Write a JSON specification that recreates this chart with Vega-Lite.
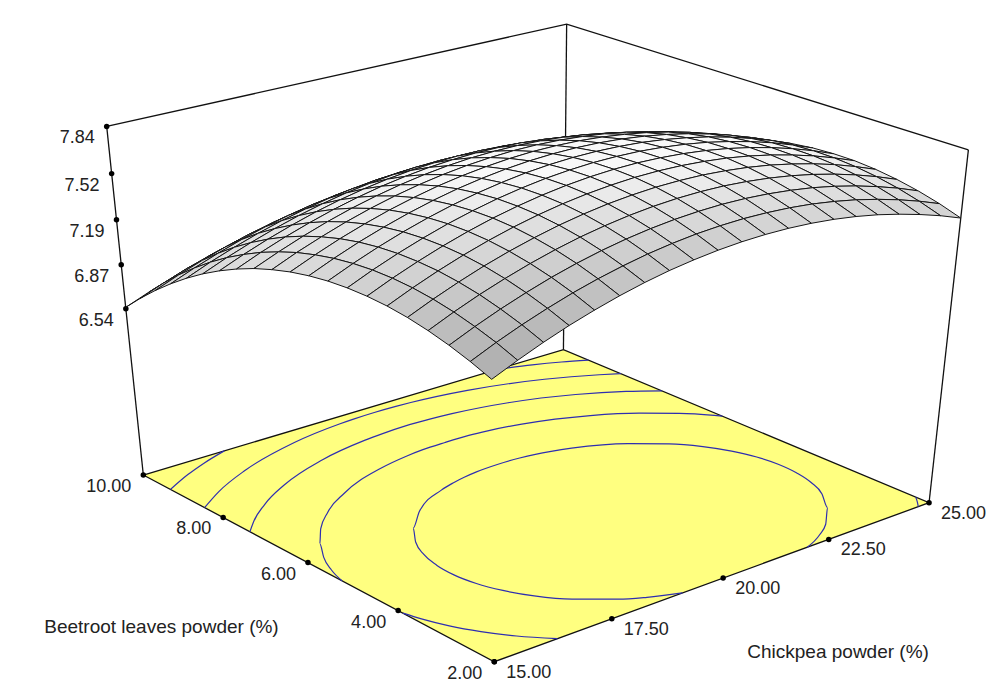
{
  "$schema": "https://vega.github.io/schema/vega-lite/v6.json",
  "width": 995,
  "height": 699,
  "autosize": {"type": "fit", "contains": "padding"},
  "padding": 0,
  "background": "white",
  "view": {"stroke": null},
  "config": {"text": {"font": "Liberation Sans", "fontSize": 18}},
  "datasets": {
    "grid": [
      {"cp":25,"bl":10,"z":6.565},{"cp":25,"bl":9.6,"z":6.694},{"cp":25,"bl":9.2,"z":6.815},{"cp":25,"bl":8.8,"z":6.926},{"cp":25,"bl":8.4,"z":7.028},{"cp":25,"bl":8,"z":7.120},{"cp":25,"bl":7.6,"z":7.203},{"cp":25,"bl":7.2,"z":7.276},{"cp":25,"bl":6.8,"z":7.340},{"cp":25,"bl":6.4,"z":7.395},{"cp":25,"bl":6,"z":7.440},{"cp":25,"bl":5.6,"z":7.476},{"cp":25,"bl":5.2,"z":7.502},{"cp":25,"bl":4.8,"z":7.519},{"cp":25,"bl":4.4,"z":7.526},{"cp":25,"bl":4,"z":7.525},{"cp":25,"bl":3.6,"z":7.513},{"cp":25,"bl":3.2,"z":7.492},{"cp":25,"bl":2.8,"z":7.462},{"cp":25,"bl":2.4,"z":7.423},{"cp":25,"bl":2,"z":7.374},
      {"cp":24.5,"bl":10,"z":6.630},{"cp":24.5,"bl":9.6,"z":6.760},{"cp":24.5,"bl":9.2,"z":6.880},{"cp":24.5,"bl":8.8,"z":6.991},{"cp":24.5,"bl":8.4,"z":7.092},{"cp":24.5,"bl":8,"z":7.184},{"cp":24.5,"bl":7.6,"z":7.266},{"cp":24.5,"bl":7.2,"z":7.340},{"cp":24.5,"bl":6.8,"z":7.403},{"cp":24.5,"bl":6.4,"z":7.457},{"cp":24.5,"bl":6,"z":7.502},{"cp":24.5,"bl":5.6,"z":7.538},{"cp":24.5,"bl":5.2,"z":7.564},{"cp":24.5,"bl":4.8,"z":7.580},{"cp":24.5,"bl":4.4,"z":7.587},{"cp":24.5,"bl":4,"z":7.585},{"cp":24.5,"bl":3.6,"z":7.573},{"cp":24.5,"bl":3.2,"z":7.552},{"cp":24.5,"bl":2.8,"z":7.522},{"cp":24.5,"bl":2.4,"z":7.482},{"cp":24.5,"bl":2,"z":7.433},
      {"cp":24,"bl":10,"z":6.689},{"cp":24,"bl":9.6,"z":6.818},{"cp":24,"bl":9.2,"z":6.938},{"cp":24,"bl":8.8,"z":7.048},{"cp":24,"bl":8.4,"z":7.149},{"cp":24,"bl":8,"z":7.241},{"cp":24,"bl":7.6,"z":7.323},{"cp":24,"bl":7.2,"z":7.396},{"cp":24,"bl":6.8,"z":7.459},{"cp":24,"bl":6.4,"z":7.513},{"cp":24,"bl":6,"z":7.558},{"cp":24,"bl":5.6,"z":7.593},{"cp":24,"bl":5.2,"z":7.618},{"cp":24,"bl":4.8,"z":7.635},{"cp":24,"bl":4.4,"z":7.641},{"cp":24,"bl":4,"z":7.639},{"cp":24,"bl":3.6,"z":7.627},{"cp":24,"bl":3.2,"z":7.605},{"cp":24,"bl":2.8,"z":7.574},{"cp":24,"bl":2.4,"z":7.534},{"cp":24,"bl":2,"z":7.484},
      {"cp":23.5,"bl":10,"z":6.740},{"cp":23.5,"bl":9.6,"z":6.869},{"cp":23.5,"bl":9.2,"z":6.989},{"cp":23.5,"bl":8.8,"z":7.099},{"cp":23.5,"bl":8.4,"z":7.199},{"cp":23.5,"bl":8,"z":7.291},{"cp":23.5,"bl":7.6,"z":7.373},{"cp":23.5,"bl":7.2,"z":7.445},{"cp":23.5,"bl":6.8,"z":7.508},{"cp":23.5,"bl":6.4,"z":7.562},{"cp":23.5,"bl":6,"z":7.606},{"cp":23.5,"bl":5.6,"z":7.641},{"cp":23.5,"bl":5.2,"z":7.666},{"cp":23.5,"bl":4.8,"z":7.682},{"cp":23.5,"bl":4.4,"z":7.688},{"cp":23.5,"bl":4,"z":7.685},{"cp":23.5,"bl":3.6,"z":7.673},{"cp":23.5,"bl":3.2,"z":7.651},{"cp":23.5,"bl":2.8,"z":7.620},{"cp":23.5,"bl":2.4,"z":7.579},{"cp":23.5,"bl":2,"z":7.529},
      {"cp":23,"bl":10,"z":6.785},{"cp":23,"bl":9.6,"z":6.914},{"cp":23,"bl":9.2,"z":7.033},{"cp":23,"bl":8.8,"z":7.143},{"cp":23,"bl":8.4,"z":7.243},{"cp":23,"bl":8,"z":7.334},{"cp":23,"bl":7.6,"z":7.415},{"cp":23,"bl":7.2,"z":7.488},{"cp":23,"bl":6.8,"z":7.550},{"cp":23,"bl":6.4,"z":7.603},{"cp":23,"bl":6,"z":7.647},{"cp":23,"bl":5.6,"z":7.682},{"cp":23,"bl":5.2,"z":7.707},{"cp":23,"bl":4.8,"z":7.722},{"cp":23,"bl":4.4,"z":7.728},{"cp":23,"bl":4,"z":7.725},{"cp":23,"bl":3.6,"z":7.712},{"cp":23,"bl":3.2,"z":7.690},{"cp":23,"bl":2.8,"z":7.659},{"cp":23,"bl":2.4,"z":7.618},{"cp":23,"bl":2,"z":7.568},
      {"cp":22.5,"bl":10,"z":6.823},{"cp":22.5,"bl":9.6,"z":6.951},{"cp":22.5,"bl":9.2,"z":7.070},{"cp":22.5,"bl":8.8,"z":7.179},{"cp":22.5,"bl":8.4,"z":7.279},{"cp":22.5,"bl":8,"z":7.370},{"cp":22.5,"bl":7.6,"z":7.451},{"cp":22.5,"bl":7.2,"z":7.523},{"cp":22.5,"bl":6.8,"z":7.585},{"cp":22.5,"bl":6.4,"z":7.638},{"cp":22.5,"bl":6,"z":7.682},{"cp":22.5,"bl":5.6,"z":7.716},{"cp":22.5,"bl":5.2,"z":7.740},{"cp":22.5,"bl":4.8,"z":7.756},{"cp":22.5,"bl":4.4,"z":7.761},{"cp":22.5,"bl":4,"z":7.758},{"cp":22.5,"bl":3.6,"z":7.745},{"cp":22.5,"bl":3.2,"z":7.722},{"cp":22.5,"bl":2.8,"z":7.691},{"cp":22.5,"bl":2.4,"z":7.649},{"cp":22.5,"bl":2,"z":7.599},
      {"cp":22,"bl":10,"z":6.853},{"cp":22,"bl":9.6,"z":6.981},{"cp":22,"bl":9.2,"z":7.100},{"cp":22,"bl":8.8,"z":7.209},{"cp":22,"bl":8.4,"z":7.309},{"cp":22,"bl":8,"z":7.399},{"cp":22,"bl":7.6,"z":7.480},{"cp":22,"bl":7.2,"z":7.551},{"cp":22,"bl":6.8,"z":7.613},{"cp":22,"bl":6.4,"z":7.666},{"cp":22,"bl":6,"z":7.709},{"cp":22,"bl":5.6,"z":7.743},{"cp":22,"bl":5.2,"z":7.767},{"cp":22,"bl":4.8,"z":7.782},{"cp":22,"bl":4.4,"z":7.787},{"cp":22,"bl":4,"z":7.784},{"cp":22,"bl":3.6,"z":7.770},{"cp":22,"bl":3.2,"z":7.747},{"cp":22,"bl":2.8,"z":7.715},{"cp":22,"bl":2.4,"z":7.674},{"cp":22,"bl":2,"z":7.623},
      {"cp":21.5,"bl":10,"z":6.877},{"cp":21.5,"bl":9.6,"z":7.004},{"cp":21.5,"bl":9.2,"z":7.123},{"cp":21.5,"bl":8.8,"z":7.232},{"cp":21.5,"bl":8.4,"z":7.331},{"cp":21.5,"bl":8,"z":7.421},{"cp":21.5,"bl":7.6,"z":7.501},{"cp":21.5,"bl":7.2,"z":7.572},{"cp":21.5,"bl":6.8,"z":7.634},{"cp":21.5,"bl":6.4,"z":7.686},{"cp":21.5,"bl":6,"z":7.729},{"cp":21.5,"bl":5.6,"z":7.763},{"cp":21.5,"bl":5.2,"z":7.787},{"cp":21.5,"bl":4.8,"z":7.801},{"cp":21.5,"bl":4.4,"z":7.806},{"cp":21.5,"bl":4,"z":7.802},{"cp":21.5,"bl":3.6,"z":7.788},{"cp":21.5,"bl":3.2,"z":7.765},{"cp":21.5,"bl":2.8,"z":7.733},{"cp":21.5,"bl":2.4,"z":7.691},{"cp":21.5,"bl":2,"z":7.640},
      {"cp":21,"bl":10,"z":6.894},{"cp":21,"bl":9.6,"z":7.021},{"cp":21,"bl":9.2,"z":7.139},{"cp":21,"bl":8.8,"z":7.247},{"cp":21,"bl":8.4,"z":7.346},{"cp":21,"bl":8,"z":7.436},{"cp":21,"bl":7.6,"z":7.516},{"cp":21,"bl":7.2,"z":7.587},{"cp":21,"bl":6.8,"z":7.648},{"cp":21,"bl":6.4,"z":7.700},{"cp":21,"bl":6,"z":7.743},{"cp":21,"bl":5.6,"z":7.776},{"cp":21,"bl":5.2,"z":7.799},{"cp":21,"bl":4.8,"z":7.814},{"cp":21,"bl":4.4,"z":7.818},{"cp":21,"bl":4,"z":7.814},{"cp":21,"bl":3.6,"z":7.800},{"cp":21,"bl":3.2,"z":7.777},{"cp":21,"bl":2.8,"z":7.744},{"cp":21,"bl":2.4,"z":7.701},{"cp":21,"bl":2,"z":7.650},
      {"cp":20.5,"bl":10,"z":6.903},{"cp":20.5,"bl":9.6,"z":7.030},{"cp":20.5,"bl":9.2,"z":7.148},{"cp":20.5,"bl":8.8,"z":7.256},{"cp":20.5,"bl":8.4,"z":7.355},{"cp":20.5,"bl":8,"z":7.444},{"cp":20.5,"bl":7.6,"z":7.524},{"cp":20.5,"bl":7.2,"z":7.594},{"cp":20.5,"bl":6.8,"z":7.655},{"cp":20.5,"bl":6.4,"z":7.707},{"cp":20.5,"bl":6,"z":7.749},{"cp":20.5,"bl":5.6,"z":7.782},{"cp":20.5,"bl":5.2,"z":7.805},{"cp":20.5,"bl":4.8,"z":7.819},{"cp":20.5,"bl":4.4,"z":7.824},{"cp":20.5,"bl":4,"z":7.819},{"cp":20.5,"bl":3.6,"z":7.804},{"cp":20.5,"bl":3.2,"z":7.781},{"cp":20.5,"bl":2.8,"z":7.748},{"cp":20.5,"bl":2.4,"z":7.705},{"cp":20.5,"bl":2,"z":7.653},
      {"cp":20,"bl":10,"z":6.906},{"cp":20,"bl":9.6,"z":7.033},{"cp":20,"bl":9.2,"z":7.150},{"cp":20,"bl":8.8,"z":7.258},{"cp":20,"bl":8.4,"z":7.356},{"cp":20,"bl":8,"z":7.445},{"cp":20,"bl":7.6,"z":7.525},{"cp":20,"bl":7.2,"z":7.595},{"cp":20,"bl":6.8,"z":7.655},{"cp":20,"bl":6.4,"z":7.707},{"cp":20,"bl":6,"z":7.749},{"cp":20,"bl":5.6,"z":7.781},{"cp":20,"bl":5.2,"z":7.804},{"cp":20,"bl":4.8,"z":7.818},{"cp":20,"bl":4.4,"z":7.822},{"cp":20,"bl":4,"z":7.817},{"cp":20,"bl":3.6,"z":7.802},{"cp":20,"bl":3.2,"z":7.778},{"cp":20,"bl":2.8,"z":7.744},{"cp":20,"bl":2.4,"z":7.701},{"cp":20,"bl":2,"z":7.649},
      {"cp":19.5,"bl":10,"z":6.902},{"cp":19.5,"bl":9.6,"z":7.028},{"cp":19.5,"bl":9.2,"z":7.145},{"cp":19.5,"bl":8.8,"z":7.253},{"cp":19.5,"bl":8.4,"z":7.351},{"cp":19.5,"bl":8,"z":7.439},{"cp":19.5,"bl":7.6,"z":7.518},{"cp":19.5,"bl":7.2,"z":7.588},{"cp":19.5,"bl":6.8,"z":7.649},{"cp":19.5,"bl":6.4,"z":7.699},{"cp":19.5,"bl":6,"z":7.741},{"cp":19.5,"bl":5.6,"z":7.773},{"cp":19.5,"bl":5.2,"z":7.796},{"cp":19.5,"bl":4.8,"z":7.809},{"cp":19.5,"bl":4.4,"z":7.813},{"cp":19.5,"bl":4,"z":7.807},{"cp":19.5,"bl":3.6,"z":7.792},{"cp":19.5,"bl":3.2,"z":7.768},{"cp":19.5,"bl":2.8,"z":7.734},{"cp":19.5,"bl":2.4,"z":7.691},{"cp":19.5,"bl":2,"z":7.638},
      {"cp":19,"bl":10,"z":6.891},{"cp":19,"bl":9.6,"z":7.016},{"cp":19,"bl":9.2,"z":7.133},{"cp":19,"bl":8.8,"z":7.240},{"cp":19,"bl":8.4,"z":7.338},{"cp":19,"bl":8,"z":7.426},{"cp":19,"bl":7.6,"z":7.505},{"cp":19,"bl":7.2,"z":7.575},{"cp":19,"bl":6.8,"z":7.635},{"cp":19,"bl":6.4,"z":7.685},{"cp":19,"bl":6,"z":7.726},{"cp":19,"bl":5.6,"z":7.758},{"cp":19,"bl":5.2,"z":7.781},{"cp":19,"bl":4.8,"z":7.794},{"cp":19,"bl":4.4,"z":7.797},{"cp":19,"bl":4,"z":7.791},{"cp":19,"bl":3.6,"z":7.776},{"cp":19,"bl":3.2,"z":7.751},{"cp":19,"bl":2.8,"z":7.717},{"cp":19,"bl":2.4,"z":7.673},{"cp":19,"bl":2,"z":7.620},
      {"cp":18.5,"bl":10,"z":6.872},{"cp":18.5,"bl":9.6,"z":6.998},{"cp":18.5,"bl":9.2,"z":7.114},{"cp":18.5,"bl":8.8,"z":7.221},{"cp":18.5,"bl":8.4,"z":7.318},{"cp":18.5,"bl":8,"z":7.406},{"cp":18.5,"bl":7.6,"z":7.485},{"cp":18.5,"bl":7.2,"z":7.554},{"cp":18.5,"bl":6.8,"z":7.614},{"cp":18.5,"bl":6.4,"z":7.664},{"cp":18.5,"bl":6,"z":7.705},{"cp":18.5,"bl":5.6,"z":7.736},{"cp":18.5,"bl":5.2,"z":7.758},{"cp":18.5,"bl":4.8,"z":7.771},{"cp":18.5,"bl":4.4,"z":7.774},{"cp":18.5,"bl":4,"z":7.768},{"cp":18.5,"bl":3.6,"z":7.752},{"cp":18.5,"bl":3.2,"z":7.727},{"cp":18.5,"bl":2.8,"z":7.693},{"cp":18.5,"bl":2.4,"z":7.649},{"cp":18.5,"bl":2,"z":7.596},
      {"cp":18,"bl":10,"z":6.847},{"cp":18,"bl":9.6,"z":6.973},{"cp":18,"bl":9.2,"z":7.089},{"cp":18,"bl":8.8,"z":7.195},{"cp":18,"bl":8.4,"z":7.292},{"cp":18,"bl":8,"z":7.380},{"cp":18,"bl":7.6,"z":7.458},{"cp":18,"bl":7.2,"z":7.527},{"cp":18,"bl":6.8,"z":7.586},{"cp":18,"bl":6.4,"z":7.636},{"cp":18,"bl":6,"z":7.677},{"cp":18,"bl":5.6,"z":7.708},{"cp":18,"bl":5.2,"z":7.729},{"cp":18,"bl":4.8,"z":7.742},{"cp":18,"bl":4.4,"z":7.744},{"cp":18,"bl":4,"z":7.738},{"cp":18,"bl":3.6,"z":7.722},{"cp":18,"bl":3.2,"z":7.697},{"cp":18,"bl":2.8,"z":7.662},{"cp":18,"bl":2.4,"z":7.617},{"cp":18,"bl":2,"z":7.564},
      {"cp":17.5,"bl":10,"z":6.815},{"cp":17.5,"bl":9.6,"z":6.940},{"cp":17.5,"bl":9.2,"z":7.056},{"cp":17.5,"bl":8.8,"z":7.162},{"cp":17.5,"bl":8.4,"z":7.258},{"cp":17.5,"bl":8,"z":7.346},{"cp":17.5,"bl":7.6,"z":7.424},{"cp":17.5,"bl":7.2,"z":7.492},{"cp":17.5,"bl":6.8,"z":7.551},{"cp":17.5,"bl":6.4,"z":7.601},{"cp":17.5,"bl":6,"z":7.641},{"cp":17.5,"bl":5.6,"z":7.672},{"cp":17.5,"bl":5.2,"z":7.693},{"cp":17.5,"bl":4.8,"z":7.705},{"cp":17.5,"bl":4.4,"z":7.708},{"cp":17.5,"bl":4,"z":7.701},{"cp":17.5,"bl":3.6,"z":7.684},{"cp":17.5,"bl":3.2,"z":7.659},{"cp":17.5,"bl":2.8,"z":7.624},{"cp":17.5,"bl":2.4,"z":7.579},{"cp":17.5,"bl":2,"z":7.525},
      {"cp":17,"bl":10,"z":6.776},{"cp":17,"bl":9.6,"z":6.901},{"cp":17,"bl":9.2,"z":7.016},{"cp":17,"bl":8.8,"z":7.122},{"cp":17,"bl":8.4,"z":7.218},{"cp":17,"bl":8,"z":7.305},{"cp":17,"bl":7.6,"z":7.383},{"cp":17,"bl":7.2,"z":7.451},{"cp":17,"bl":6.8,"z":7.510},{"cp":17,"bl":6.4,"z":7.559},{"cp":17,"bl":6,"z":7.599},{"cp":17,"bl":5.6,"z":7.629},{"cp":17,"bl":5.2,"z":7.650},{"cp":17,"bl":4.8,"z":7.662},{"cp":17,"bl":4.4,"z":7.664},{"cp":17,"bl":4,"z":7.657},{"cp":17,"bl":3.6,"z":7.640},{"cp":17,"bl":3.2,"z":7.614},{"cp":17,"bl":2.8,"z":7.579},{"cp":17,"bl":2.4,"z":7.534},{"cp":17,"bl":2,"z":7.479},
      {"cp":16.5,"bl":10,"z":6.730},{"cp":16.5,"bl":9.6,"z":6.854},{"cp":16.5,"bl":9.2,"z":6.969},{"cp":16.5,"bl":8.8,"z":7.075},{"cp":16.5,"bl":8.4,"z":7.171},{"cp":16.5,"bl":8,"z":7.257},{"cp":16.5,"bl":7.6,"z":7.334},{"cp":16.5,"bl":7.2,"z":7.402},{"cp":16.5,"bl":6.8,"z":7.461},{"cp":16.5,"bl":6.4,"z":7.510},{"cp":16.5,"bl":6,"z":7.549},{"cp":16.5,"bl":5.6,"z":7.579},{"cp":16.5,"bl":5.2,"z":7.600},{"cp":16.5,"bl":4.8,"z":7.611},{"cp":16.5,"bl":4.4,"z":7.613},{"cp":16.5,"bl":4,"z":7.606},{"cp":16.5,"bl":3.6,"z":7.589},{"cp":16.5,"bl":3.2,"z":7.562},{"cp":16.5,"bl":2.8,"z":7.526},{"cp":16.5,"bl":2.4,"z":7.481},{"cp":16.5,"bl":2,"z":7.427},
      {"cp":16,"bl":10,"z":6.677},{"cp":16,"bl":9.6,"z":6.801},{"cp":16,"bl":9.2,"z":6.915},{"cp":16,"bl":8.8,"z":7.020},{"cp":16,"bl":8.4,"z":7.116},{"cp":16,"bl":8,"z":7.202},{"cp":16,"bl":7.6,"z":7.279},{"cp":16,"bl":7.2,"z":7.347},{"cp":16,"bl":6.8,"z":7.405},{"cp":16,"bl":6.4,"z":7.453},{"cp":16,"bl":6,"z":7.493},{"cp":16,"bl":5.6,"z":7.523},{"cp":16,"bl":5.2,"z":7.543},{"cp":16,"bl":4.8,"z":7.554},{"cp":16,"bl":4.4,"z":7.555},{"cp":16,"bl":4,"z":7.548},{"cp":16,"bl":3.6,"z":7.530},{"cp":16,"bl":3.2,"z":7.504},{"cp":16,"bl":2.8,"z":7.467},{"cp":16,"bl":2.4,"z":7.422},{"cp":16,"bl":2,"z":7.367},
      {"cp":15.5,"bl":10,"z":6.617},{"cp":15.5,"bl":9.6,"z":6.740},{"cp":15.5,"bl":9.2,"z":6.855},{"cp":15.5,"bl":8.8,"z":6.959},{"cp":15.5,"bl":8.4,"z":7.055},{"cp":15.5,"bl":8,"z":7.141},{"cp":15.5,"bl":7.6,"z":7.217},{"cp":15.5,"bl":7.2,"z":7.285},{"cp":15.5,"bl":6.8,"z":7.342},{"cp":15.5,"bl":6.4,"z":7.391},{"cp":15.5,"bl":6,"z":7.429},{"cp":15.5,"bl":5.6,"z":7.459},{"cp":15.5,"bl":5.2,"z":7.479},{"cp":15.5,"bl":4.8,"z":7.490},{"cp":15.5,"bl":4.4,"z":7.491},{"cp":15.5,"bl":4,"z":7.483},{"cp":15.5,"bl":3.6,"z":7.465},{"cp":15.5,"bl":3.2,"z":7.438},{"cp":15.5,"bl":2.8,"z":7.401},{"cp":15.5,"bl":2.4,"z":7.356},{"cp":15.5,"bl":2,"z":7.300},
      {"cp":15,"bl":10,"z":6.550},{"cp":15,"bl":9.6,"z":6.673},{"cp":15,"bl":9.2,"z":6.787},{"cp":15,"bl":8.8,"z":6.891},{"cp":15,"bl":8.4,"z":6.986},{"cp":15,"bl":8,"z":7.072},{"cp":15,"bl":7.6,"z":7.148},{"cp":15,"bl":7.2,"z":7.215},{"cp":15,"bl":6.8,"z":7.273},{"cp":15,"bl":6.4,"z":7.320},{"cp":15,"bl":6,"z":7.359},{"cp":15,"bl":5.6,"z":7.388},{"cp":15,"bl":5.2,"z":7.408},{"cp":15,"bl":4.8,"z":7.418},{"cp":15,"bl":4.4,"z":7.419},{"cp":15,"bl":4,"z":7.411},{"cp":15,"bl":3.6,"z":7.393},{"cp":15,"bl":3.2,"z":7.365},{"cp":15,"bl":2.8,"z":7.328},{"cp":15,"bl":2.4,"z":7.282},{"cp":15,"bl":2,"z":7.227}
    ],
    "contours": [
      {"seg":"5","o":0,"cp":19.07,"bl":2},{"seg":"5","o":1,"cp":18.5,"bl":2.2},{"seg":"5","o":2,"cp":18.085,"bl":2.4},{"seg":"5","o":3,"cp":17.495,"bl":2.8},{"seg":"5","o":4,"cp":17.095,"bl":3.2},{"seg":"5","o":5,"cp":16.83,"bl":3.6},{"seg":"5","o":6,"cp":16.665,"bl":4},{"seg":"5","o":7,"cp":16.595,"bl":4.4},{"seg":"5","o":8,"cp":16.615,"bl":4.8},{"seg":"5","o":9,"cp":16.725,"bl":5.2},{"seg":"5","o":10,"cp":16.94,"bl":5.6},{"seg":"5","o":11,"cp":17.28,"bl":6},{"seg":"5","o":12,"cp":17.81,"bl":6.4},{"seg":"5","o":13,"cp":18.705,"bl":6.8},{"seg":"5","o":14,"cp":19.085,"bl":6.9},{"seg":"5","o":15,"cp":19.405,"bl":6.96},{"seg":"5","o":16,"cp":19.72,"bl":7},{"seg":"5","o":17,"cp":20.23,"bl":7.02},{"seg":"5","o":18,"cp":20.74,"bl":7},{"seg":"5","o":19,"cp":21.075,"bl":6.96},{"seg":"5","o":20,"cp":21.39,"bl":6.9},{"seg":"5","o":21,"cp":21.78,"bl":6.8},{"seg":"5","o":22,"cp":22.725,"bl":6.4},{"seg":"5","o":23,"cp":23.3,"bl":6},{"seg":"5","o":24,"cp":23.69,"bl":5.6},{"seg":"5","o":25,"cp":23.95,"bl":5.2},{"seg":"5","o":26,"cp":24.11,"bl":4.8},{"seg":"5","o":27,"cp":24.175,"bl":4.4},{"seg":"5","o":28,"cp":24.15,"bl":4},{"seg":"5","o":29,"cp":24.035,"bl":3.6},{"seg":"5","o":30,"cp":23.815,"bl":3.2},{"seg":"5","o":31,"cp":23.46,"bl":2.8},{"seg":"5","o":32,"cp":22.92,"bl":2.4},{"seg":"5","o":33,"cp":22.53,"bl":2.2},{"seg":"5","o":34,"cp":21.98,"bl":2},
      {"seg":"4a","o":0,"cp":15,"bl":3.896},{"seg":"4a","o":1,"cp":15.095,"bl":3.6},{"seg":"4a","o":2,"cp":15.28,"bl":3.2},{"seg":"4a","o":3,"cp":15.54,"bl":2.8},{"seg":"4a","o":4,"cp":15.88,"bl":2.4},{"seg":"4a","o":5,"cp":16.325,"bl":2},
      {"seg":"4b","o":0,"cp":24.725,"bl":2},{"seg":"4b","o":1,"cp":24.858,"bl":2.12},{"seg":"4b","o":2,"cp":25,"bl":2.262},
      {"seg":"4c","o":0,"cp":15,"bl":5.23},{"seg":"4c","o":1,"cp":15.125,"bl":5.6},{"seg":"4c","o":2,"cp":15.335,"bl":6},{"seg":"4c","o":3,"cp":15.625,"bl":6.4},{"seg":"4c","o":4,"cp":16.015,"bl":6.8},{"seg":"4c","o":5,"cp":16.54,"bl":7.2},{"seg":"4c","o":6,"cp":17.285,"bl":7.6},{"seg":"4c","o":7,"cp":18.505,"bl":8},{"seg":"4c","o":8,"cp":19.2,"bl":8.12},{"seg":"4c","o":9,"cp":19.61,"bl":8.16},{"seg":"4c","o":10,"cp":20.16,"bl":8.17},{"seg":"4c","o":11,"cp":20.715,"bl":8.16},{"seg":"4c","o":12,"cp":21.13,"bl":8.12},{"seg":"4c","o":13,"cp":21.835,"bl":8},{"seg":"4c","o":14,"cp":23.105,"bl":7.6},{"seg":"4c","o":15,"cp":23.895,"bl":7.2},{"seg":"4c","o":16,"cp":24.47,"bl":6.8},{"seg":"4c","o":17,"cp":24.91,"bl":6.4},{"seg":"4c","o":18,"cp":25,"bl":6.303},
      {"seg":"3","o":0,"cp":15,"bl":7.356},{"seg":"3","o":1,"cp":15.295,"bl":7.6},{"seg":"3","o":2,"cp":15.895,"bl":8},{"seg":"3","o":3,"cp":16.695,"bl":8.4},{"seg":"3","o":4,"cp":17.92,"bl":8.8},{"seg":"3","o":5,"cp":19.075,"bl":9},{"seg":"3","o":6,"cp":19.555,"bl":9.04},{"seg":"3","o":7,"cp":20.1,"bl":9.06},{"seg":"3","o":8,"cp":20.66,"bl":9.04},{"seg":"3","o":9,"cp":21.155,"bl":9},{"seg":"3","o":10,"cp":22.33,"bl":8.8},{"seg":"3","o":11,"cp":23.6,"bl":8.4},{"seg":"3","o":12,"cp":24.45,"bl":8},{"seg":"3","o":13,"cp":25,"bl":7.664},
      {"seg":"2","o":0,"cp":15,"bl":8.456},{"seg":"2","o":1,"cp":15.61,"bl":8.8},{"seg":"2","o":2,"cp":16.545,"bl":9.2},{"seg":"2","o":3,"cp":18.015,"bl":9.6},{"seg":"2","o":4,"cp":19.225,"bl":9.76},{"seg":"2","o":5,"cp":19.56,"bl":9.78},{"seg":"2","o":6,"cp":20.065,"bl":9.792},{"seg":"2","o":7,"cp":20.57,"bl":9.78},{"seg":"2","o":8,"cp":20.91,"bl":9.76},{"seg":"2","o":9,"cp":22.14,"bl":9.6},{"seg":"2","o":10,"cp":23.66,"bl":9.2},{"seg":"2","o":11,"cp":24.64,"bl":8.8},{"seg":"2","o":12,"cp":25,"bl":8.62},
      {"seg":"1a","o":0,"cp":15,"bl":9.308},{"seg":"1a","o":1,"cp":15.63,"bl":9.6},{"seg":"1a","o":2,"cp":16.15,"bl":9.8},{"seg":"1a","o":3,"cp":16.785,"bl":10},
      {"seg":"1b","o":0,"cp":23.325,"bl":10},{"seg":"1b","o":1,"cp":23.98,"bl":9.8},{"seg":"1b","o":2,"cp":24.524,"bl":9.6},{"seg":"1b","o":3,"cp":25,"bl":9.396}
    ],
    "floor": [
      {"o":0,"cp":15,"bl":10},{"o":1,"cp":15,"bl":2},{"o":2,"cp":25,"bl":2},{"o":3,"cp":25,"bl":10},{"o":4,"cp":15,"bl":10}
    ],
    "box": [
      {"seg":"top","o":0,"cp":15,"bl":10,"z":7.84},{"seg":"top","o":1,"cp":25,"bl":10,"z":7.84},{"seg":"top","o":2,"cp":25,"bl":2,"z":7.84},
      {"seg":"left","o":0,"cp":15,"bl":10,"z":7.84},{"seg":"left","o":1,"cp":15,"bl":10,"z":5.24},
      {"seg":"right","o":0,"cp":25,"bl":2,"z":7.84},{"seg":"right","o":1,"cp":25,"bl":2,"z":5.24},
      {"seg":"back","o":0,"cp":25,"bl":10,"z":7.84},{"seg":"back","o":1,"cp":25,"bl":10,"z":5.24}
    ],
    "ticks": [
      {"ax":"z","cp":15,"bl":10,"z":6.54,"label":"6.54"},{"ax":"z","cp":15,"bl":10,"z":6.865,"label":"6.87"},{"ax":"z","cp":15,"bl":10,"z":7.19,"label":"7.19"},{"ax":"z","cp":15,"bl":10,"z":7.515,"label":"7.52"},{"ax":"z","cp":15,"bl":10,"z":7.84,"label":"7.84"},
      {"ax":"bl","cp":15,"bl":2,"z":5.24,"label":"2.00"},{"ax":"bl","cp":15,"bl":4,"z":5.24,"label":"4.00"},{"ax":"bl","cp":15,"bl":6,"z":5.24,"label":"6.00"},{"ax":"bl","cp":15,"bl":8,"z":5.24,"label":"8.00"},{"ax":"bl","cp":15,"bl":10,"z":5.24,"label":"10.00"},
      {"ax":"cp","cp":15,"bl":2,"z":5.24,"label":"15.00"},{"ax":"cp","cp":17.5,"bl":2,"z":5.24,"label":"17.50"},{"ax":"cp","cp":20,"bl":2,"z":5.24,"label":"20.00"},{"ax":"cp","cp":22.5,"bl":2,"z":5.24,"label":"22.50"},{"ax":"cp","cp":25,"bl":2,"z":5.24,"label":"25.00"}
    ],
    "titles": [
      {"label":"Beetroot leaves powder (%)","cp":11.65,"bl":5.59,"z":5.24},
      {"label":"Chickpea powder (%)","cp":19.47,"bl":-0.62,"z":5.24}
    ]
  },
  "encoding": {
    "x": {"field": "px", "type": "quantitative", "scale": {"domain": [0, 995], "nice": false, "zero": false}, "axis": null},
    "y": {"field": "py", "type": "quantitative", "scale": {"domain": [0, 699], "nice": false, "zero": false, "reverse": true}, "axis": null}
  },
  "layer": [
    {
      "data": {"name": "box"},
      "transform": [
        {"calculate": "(datum.cp - 15) / 10", "as": "u"},
        {"calculate": "(datum.bl - 2) / 8", "as": "v"},
        {"calculate": "(datum.z - 5.24) / 2.6", "as": "w"},
        {"calculate": "1 + 0.11135 * datum.u + 0.13174 * datum.v - 0.09883 * datum.w", "as": "dd"},
        {"calculate": "(494.3 + 538.2 * datum.u - 332.1 * datum.v - 52 * datum.w) / datum.dd", "as": "px"},
        {"calculate": "(661.7 - 103 * datum.u - 124.1 * datum.v - 407 * datum.w) / datum.dd", "as": "py"}
      ],
      "mark": {"type": "line", "stroke": "#111111", "strokeWidth": 1.3},
      "encoding": {
        "detail": {"field": "seg"},
        "order": {"field": "o", "type": "quantitative"}
      }
    },
    {
      "data": {"name": "floor"},
      "transform": [
        {"calculate": "(datum.cp - 15) / 10", "as": "u"},
        {"calculate": "(datum.bl - 2) / 8", "as": "v"},
        {"calculate": "1 + 0.11135 * datum.u + 0.13174 * datum.v", "as": "dd"},
        {"calculate": "(494.3 + 538.2 * datum.u - 332.1 * datum.v) / datum.dd", "as": "px"},
        {"calculate": "(661.7 - 103 * datum.u - 124.1 * datum.v) / datum.dd", "as": "py"}
      ],
      "mark": {"type": "line", "fill": "#ffff80", "stroke": "#111111", "strokeWidth": 1.3},
      "encoding": {
        "order": {"field": "o", "type": "quantitative"}
      }
    },
    {
      "data": {"name": "contours"},
      "transform": [
        {"calculate": "(datum.cp - 15) / 10", "as": "u"},
        {"calculate": "(datum.bl - 2) / 8", "as": "v"},
        {"calculate": "1 + 0.11135 * datum.u + 0.13174 * datum.v", "as": "dd"},
        {"calculate": "(494.3 + 538.2 * datum.u - 332.1 * datum.v) / datum.dd", "as": "px"},
        {"calculate": "(661.7 - 103 * datum.u - 124.1 * datum.v) / datum.dd", "as": "py"}
      ],
      "mark": {"type": "line", "stroke": "#2e2eb0", "strokeWidth": 1.2, "interpolate": "monotone"},
      "encoding": {
        "detail": {"field": "seg"},
        "order": {"field": "o", "type": "quantitative"}
      }
    },
    {
      "data": {"name": "ticks"},
      "transform": [
        {"calculate": "(datum.cp - 15) / 10", "as": "u"},
        {"calculate": "(datum.bl - 2) / 8", "as": "v"},
        {"calculate": "(datum.z - 5.24) / 2.6", "as": "w"},
        {"calculate": "1 + 0.11135 * datum.u + 0.13174 * datum.v - 0.09883 * datum.w", "as": "dd"},
        {"calculate": "(494.3 + 538.2 * datum.u - 332.1 * datum.v - 52 * datum.w) / datum.dd", "as": "px"},
        {"calculate": "(661.7 - 103 * datum.u - 124.1 * datum.v - 407 * datum.w) / datum.dd", "as": "py"}
      ],
      "layer": [
        {"mark": {"type": "point", "filled": true, "color": "#000000", "size": 30, "opacity": 1}},
        {
          "transform": [{"filter": "datum.ax != 'cp'"}],
          "mark": {"type": "text", "align": "right", "baseline": "middle", "dx": -12, "dy": 12, "color": "#222222"},
          "encoding": {"text": {"field": "label"}}
        },
        {
          "transform": [{"filter": "datum.ax == 'cp'"}],
          "mark": {"type": "text", "align": "left", "baseline": "middle", "dx": 12, "dy": 11, "color": "#222222"},
          "encoding": {"text": {"field": "label"}}
        }
      ]
    },
    {
      "data": {"name": "grid"},
      "transform": [
        {"window": [{"op": "lead", "field": "z", "as": "z01"}], "groupby": ["cp"], "sort": [{"field": "bl"}]},
        {"window": [{"op": "lead", "field": "z", "as": "z10"}, {"op": "lead", "field": "z01", "as": "z11"}], "groupby": ["bl"], "sort": [{"field": "cp"}]},
        {"filter": "isValid(datum.z10) && isValid(datum.z01) && isValid(datum.z11)"},
        {"calculate": "(datum.z10 + datum.z11 - datum.z - datum.z01) * 3.846", "as": "su"},
        {"calculate": "(datum.z01 + datum.z11 - datum.z - datum.z10) * 3.846", "as": "sv"},
        {"calculate": "(1 - 0.15 * datum.su - 0.3 * datum.sv) / sqrt(1 + datum.su * datum.su + datum.sv * datum.sv) / 1.0555", "as": "shade"},
        {"calculate": "datum.cp + '_' + datum.bl", "as": "qid"},
        {"calculate": "datum.z", "as": "z4"},
        {"fold": ["z", "z10", "z11", "z01", "z4"], "as": ["corner", "zc"]},
        {"calculate": "indexof(['z', 'z10', 'z11', 'z01', 'z4'], datum.corner)", "as": "vo"},
        {"calculate": "datum.cp + (datum.vo == 1 || datum.vo == 2 ? 0.5 : 0)", "as": "cq"},
        {"calculate": "datum.bl + (datum.vo == 2 || datum.vo == 3 ? 0.4 : 0)", "as": "bq"},
        {"calculate": "(datum.cq - 15) / 10", "as": "u"},
        {"calculate": "(datum.bq - 2) / 8", "as": "v"},
        {"calculate": "(datum.zc - 5.24) / 2.6", "as": "w"},
        {"calculate": "1 + 0.11135 * datum.u + 0.13174 * datum.v - 0.09883 * datum.w", "as": "dd"},
        {"calculate": "(494.3 + 538.2 * datum.u - 332.1 * datum.v - 52 * datum.w) / datum.dd", "as": "px"},
        {"calculate": "(661.7 - 103 * datum.u - 124.1 * datum.v - 407 * datum.w) / datum.dd", "as": "py"}
      ],
      "mark": {"type": "line", "stroke": "#151515", "strokeWidth": 1, "strokeJoin": "round"},
      "encoding": {
        "detail": {"field": "qid"},
        "order": {"field": "vo", "type": "quantitative"},
        "fill": {"field": "shade", "type": "quantitative", "scale": {"domain": [0.6, 0.95], "range": ["#b0b0b0", "#f8f8f8"], "clamp": true}, "legend": null}
      }
    },
    {
      "data": {"name": "titles"},
      "transform": [
        {"calculate": "(datum.cp - 15) / 10", "as": "u"},
        {"calculate": "(datum.bl - 2) / 8", "as": "v"},
        {"calculate": "1 + 0.11135 * datum.u + 0.13174 * datum.v", "as": "dd"},
        {"calculate": "(494.3 + 538.2 * datum.u - 332.1 * datum.v) / datum.dd", "as": "px"},
        {"calculate": "(661.7 - 103 * datum.u - 124.1 * datum.v) / datum.dd", "as": "py"}
      ],
      "mark": {"type": "text", "align": "center", "baseline": "middle", "color": "#222222", "fontSize": 19},
      "encoding": {"text": {"field": "label"}}
    }
  ]
}
